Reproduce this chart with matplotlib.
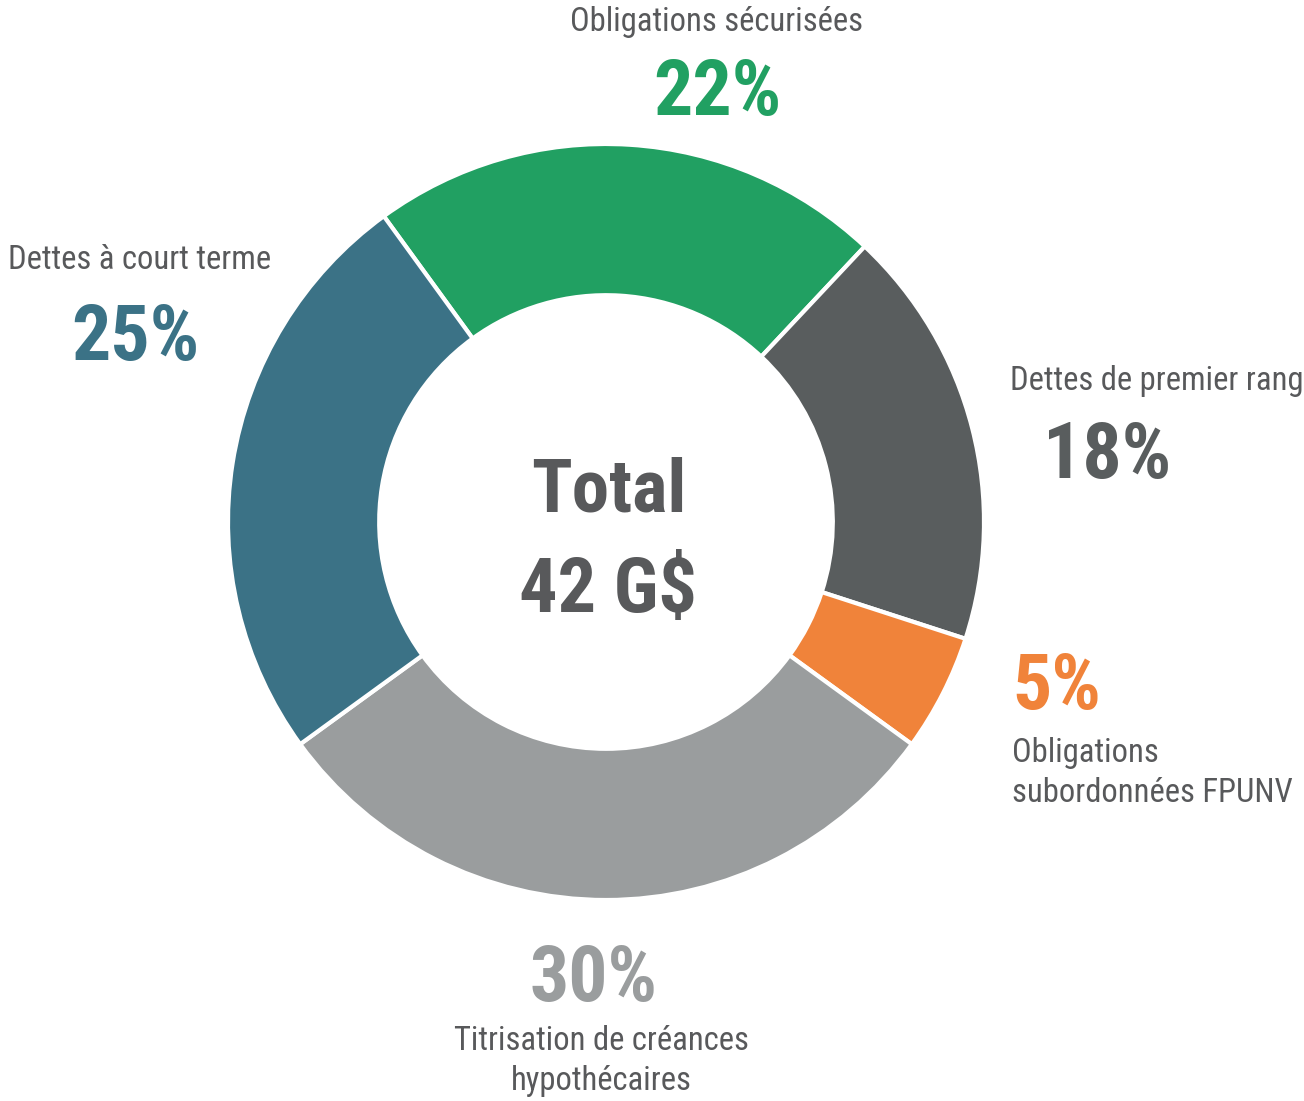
import matplotlib
matplotlib.use('Agg')
import matplotlib.pyplot as plt
from matplotlib import font_manager

# données du graphique
categories = ['Obligations sécurisées', 'Dettes de premier rang',
              'Obligations\nsubordonnées FPUNV', 'Titrisation de créances\nhypothécaires',
              'Dettes à court terme']
parts = [22, 18, 5, 30, 25]
couleurs = ['#21a062', '#595d5e', '#f0833a', '#9a9d9e', '#3b7286']
total_label = ['Total', '42 G$']

names = set(f.name for f in font_manager.fontManager.ttflist)
FONT = [n for n in ['Roboto Condensed', 'Open Sans Condensed', 'Liberation Sans Narrow']
        if n in names]
plt.rcParams['font.family'] = FONT + ['DejaVu Sans']
plt.rcParams['font.stretch'] = 'condensed'

W, H = 1304, 1101
fig = plt.figure(figsize=(W / 100, H / 100), dpi=100)
ax = fig.add_axes([0, 0, 1, 1])

cx, cy, R = 606, H - 522, 378
ax.pie(parts, colors=couleurs, startangle=126, counterclock=False,
       center=(cx, cy), radius=R, frame=True,
       wedgeprops=dict(width=R * 0.4, edgecolor='white', linewidth=3))
ax.set_xlim(0, W)
ax.set_ylim(0, H)
ax.set_aspect('equal')
ax.axis('off')

txt = '#58595b'
ax.text(cx + 3, H - 491, total_label[0], ha='center', va='center', fontsize=54,
        fontweight='bold', color=txt)
ax.text(cx + 2, H - 592, total_label[1], ha='center', va='center', fontsize=55,
        fontweight='bold', color=txt)

lab = 23.5
pct = 56
# Obligations sécurisées
ax.text(716, H - 22, categories[0], ha='center', va='center', fontsize=lab, color=txt)
ax.text(717, H - 94, f'{parts[0]}%', ha='center', va='center', fontsize=pct,
        fontweight='bold', color=couleurs[0])
# Dettes de premier rang
ax.text(1010, H - 381, categories[1], ha='left', va='center', fontsize=lab, color=txt)
ax.text(1107, H - 457, f'{parts[1]}%', ha='center', va='center', fontsize=pct,
        fontweight='bold', color=couleurs[1])
# FPUNV
ax.text(1057, H - 688, f'{parts[2]}%', ha='center', va='center', fontsize=pct,
        fontweight='bold', color=couleurs[2])
ax.text(1012, H - 773, categories[2], ha='left', va='center', fontsize=lab, color=txt,
        linespacing=1.3)
# Titrisation
ax.text(594, H - 980, f'{parts[3]}%', ha='center', va='center', fontsize=pct,
        fontweight='bold', color=couleurs[3])
ax.text(601, H - 1061, categories[3], ha='center', va='center', fontsize=lab, color=txt,
        linespacing=1.3)
# Dettes à court terme
ax.text(8, H - 260, categories[4], ha='left', va='center', fontsize=lab, color=txt)
ax.text(135, H - 339, f'{parts[4]}%', ha='center', va='center', fontsize=pct,
        fontweight='bold', color=couleurs[4])

fig.savefig('out.png', dpi=100)
